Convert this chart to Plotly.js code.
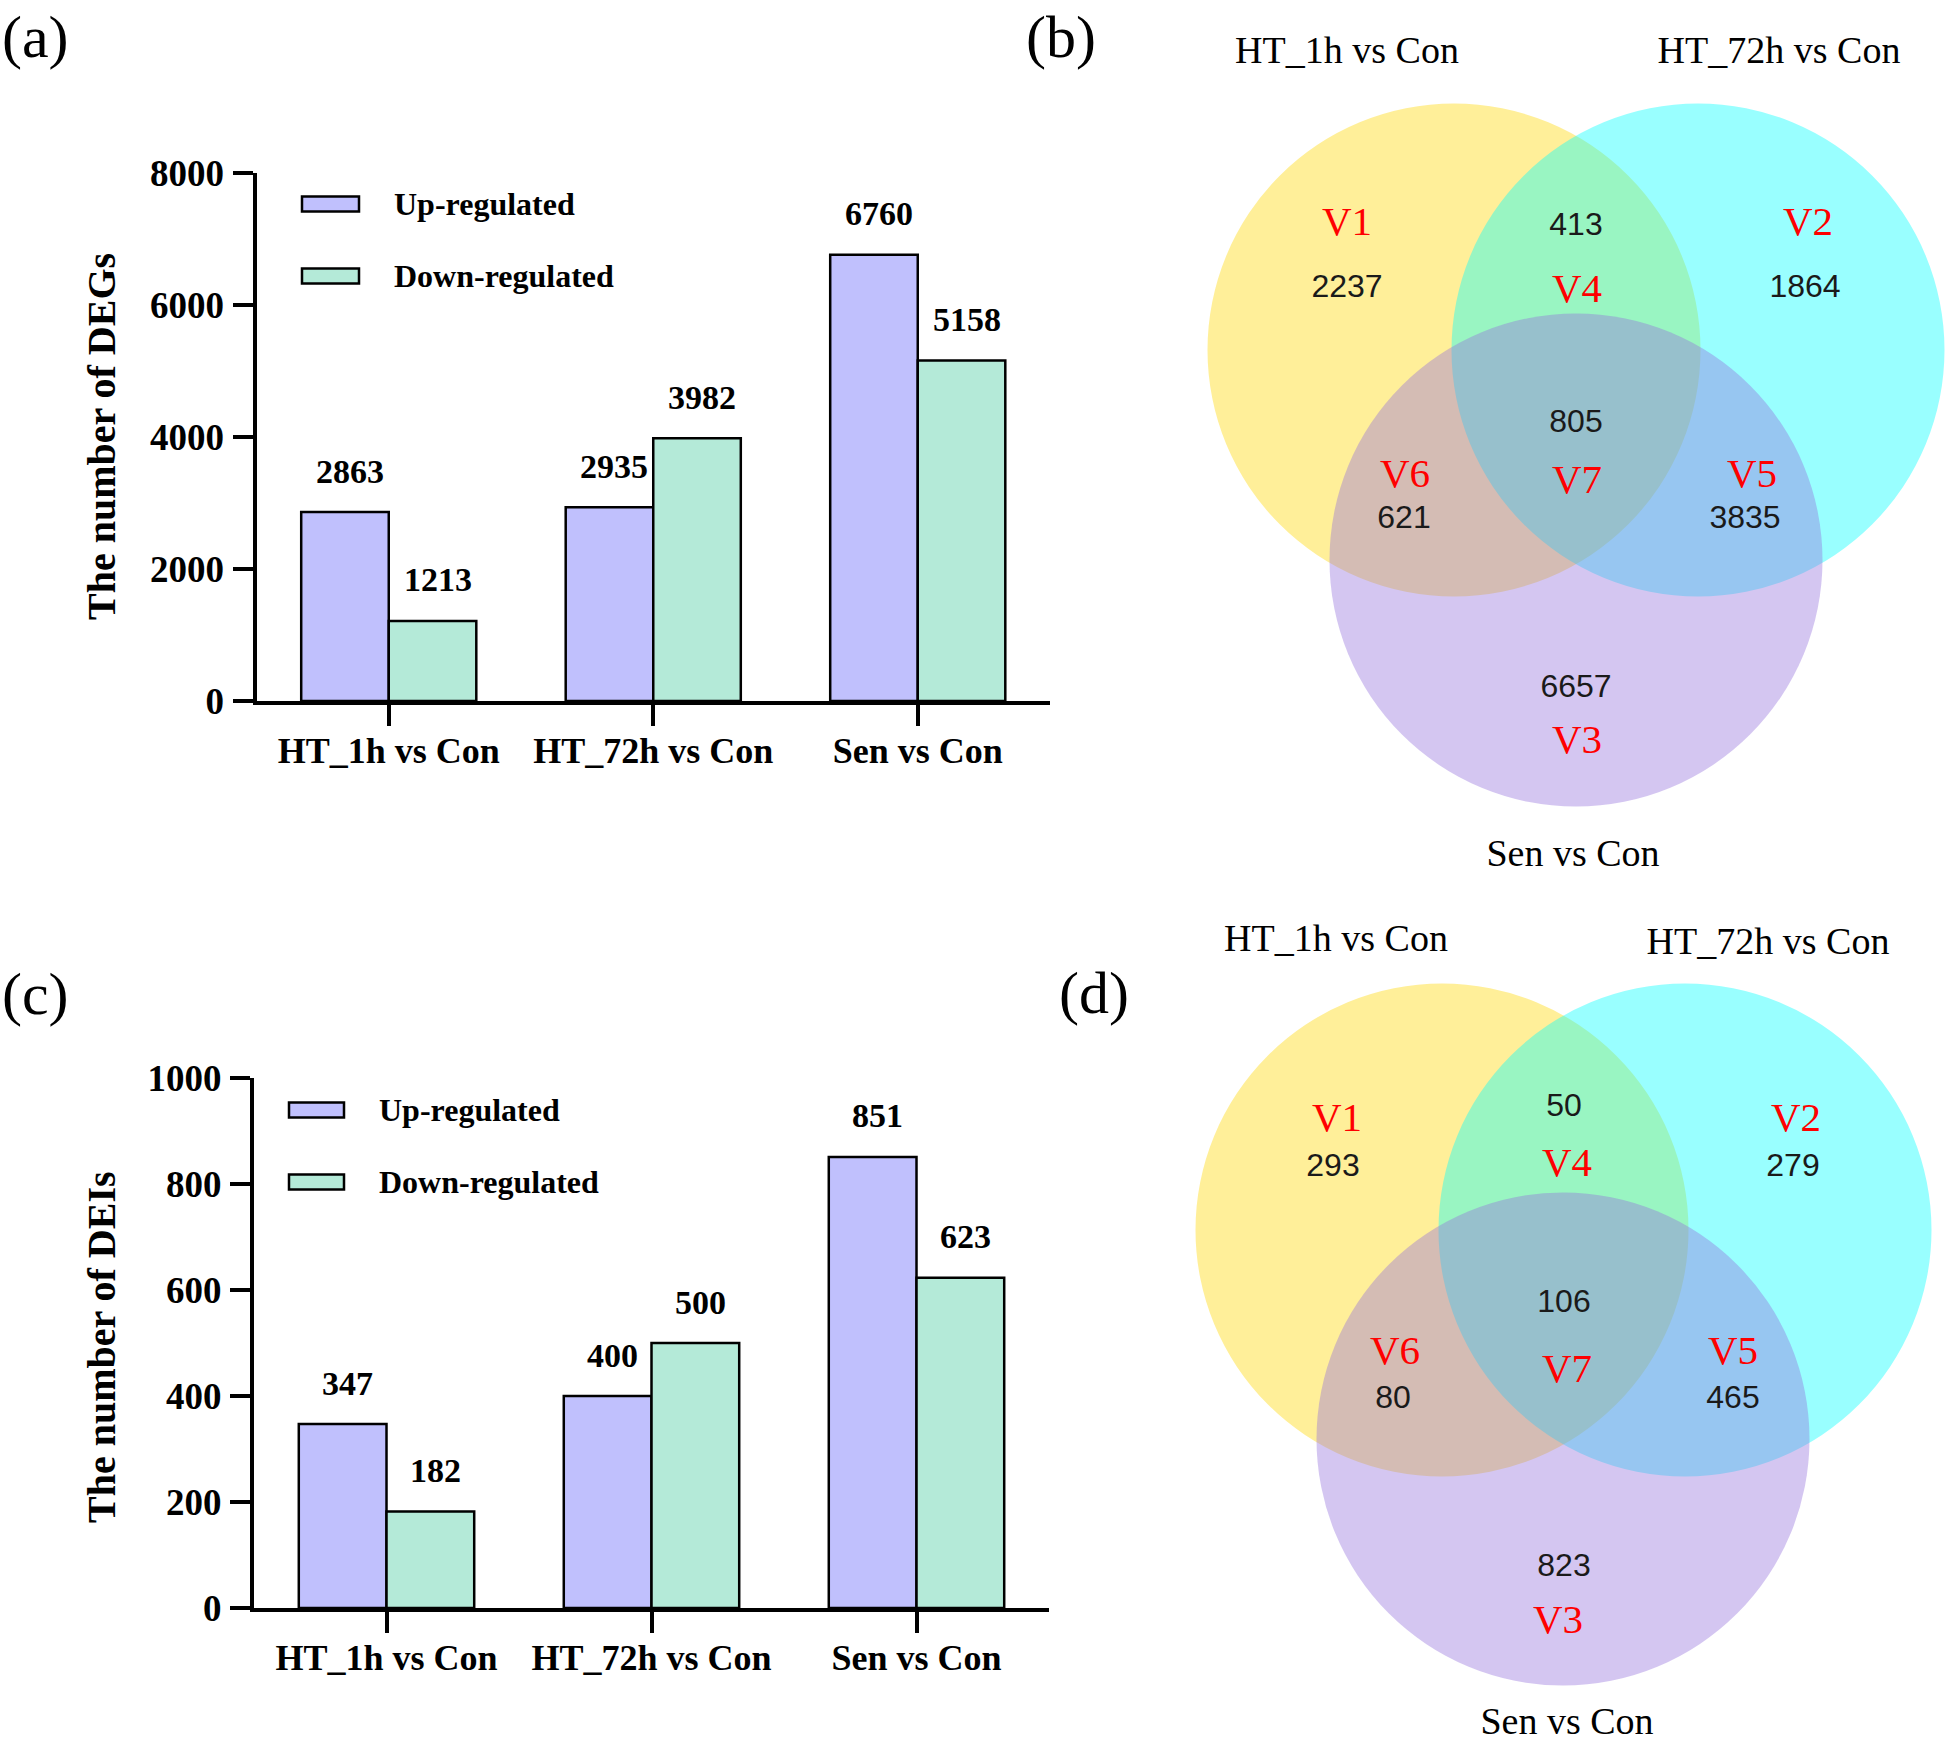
<!DOCTYPE html>
<html>
<head>
<meta charset="utf-8">
<script src="https://cdn.plot.ly/plotly-3.0.1.min.js"></script>
<style>html,body{margin:0;padding:0;background:#fff}</style>
</head>
<body>
<div id="chart" style="width:1946px;height:1743px"></div>
<script>
// ---------------- DATA ----------------
const categories = ['HT_1h vs Con', 'HT_72h vs Con', 'Sen vs Con'];
const seriesNames = ['Up-regulated', 'Down-regulated'];
const degUp = [2863, 2935, 6760];
const degDown = [1213, 3982, 5158];
const deiUp = [347, 400, 851];
const deiDown = [182, 500, 623];
const degTicks = [0, 2000, 4000, 6000, 8000];
const deiTicks = [0, 200, 400, 600, 800, 1000];
const vennSets = ['HT_1h vs Con', 'HT_72h vs Con', 'Sen vs Con'];
const vennRegions = ['V1', 'V2', 'V3', 'V4', 'V5', 'V6', 'V7'];
const vennDEGs = [2237, 1864, 6657, 413, 3835, 621, 805];
const vennDEIs = [293, 279, 823, 50, 465, 80, 106];

// ---------------- LAYOUT / STYLE ----------------
const W = 1946, H = 1743;
const SERIF = '"Liberation Serif","Times New Roman",serif';
const SANS = '"Liberation Sans",Arial,sans-serif';
const UP_COLOR = '#C0C0FD', DOWN_COLOR = '#B4EAD8';
const VENN_COLORS = ['#FFD700', '#00FFFF', '#9370DB'];
const BARGAP = 0.338;
const TEXT_DY = 3;   // small vertical nudge for venn texts
const px = v => v / W;
const py = v => 1 - v / H;

const barPanels = [
  {xa: 'x', ya: 'y', left: 256.5, right: 1050, top: 173, bottom: 701, max: 8000, ticks: degTicks,
   up: degUp, down: degDown, ytitle: 'The number of DEGs', tX: 101, tY: 437,
   leg: {sx0: 302, sx1: 359, tx: 392, y: [204, 276]}, label: '(a)', lx: 35, ly: 37},
  {xa: 'x2', ya: 'y2', left: 254, right: 1049, top: 1078, bottom: 1608, max: 1000, ticks: deiTicks,
   up: deiUp, down: deiDown, ytitle: 'The number of DEIs', tX: 101, tY: 1347,
   leg: {sx0: 289, sx1: 344, tx: 377, y: [1110, 1182]}, label: '(c)', lx: 35, ly: 994}
];

const vennPanels = [
  {counts: vennDEGs, circles: [[1454, 350], [1698, 350], [1576, 560]], r: 246.5,
   vPos: [[1347, 222], [1808, 222], [1577, 740], [1577, 289], [1752, 474], [1405, 474], [1577, 480]],
   nPos: [[1347, 286], [1805, 286], [1576, 686], [1576, 224], [1745, 517], [1404, 517], [1576, 421]],
   tPos: [[1347, 50], [1779, 50], [1573, 853]], label: '(b)', lx: 1061, ly: 37},
  {counts: vennDEIs, circles: [[1442, 1230], [1685, 1230], [1563, 1439]], r: 246.5,
   vPos: [[1337, 1118], [1796, 1118], [1558, 1620], [1567, 1163], [1733, 1351], [1395, 1351], [1567, 1369]],
   nPos: [[1333, 1165], [1793, 1165], [1564, 1565], [1564, 1105], [1733, 1397], [1393, 1397], [1564, 1301]],
   tPos: [[1336, 938], [1768, 941], [1567, 1721]], label: '(d)', lx: 1094, ly: 993}
];

const traces = [];
const shapes = [];
const annotations = [];
const layout = {
  width: W, height: H,
  margin: {l: 0, r: 0, t: 0, b: 0, pad: 0},
  paper_bgcolor: '#ffffff', plot_bgcolor: 'rgba(0,0,0,0)',
  showlegend: false,
  barmode: 'group', bargap: BARGAP, bargroupgap: 0,
  font: {family: SERIF, color: '#000'}
};

barPanels.forEach((p, k) => {
  const idx = k === 0 ? '' : '2';
  const xFont = {family: SERIF, size: 36, weight: 'bold', color: '#000'};
  const yFont = {family: SERIF, size: 37, weight: 'bold', color: '#000'};
  layout['xaxis' + idx] = {
    domain: [px(p.left), px(p.right)], anchor: p.ya, type: 'category', range: [-0.5, 2.5],
    showline: true, linecolor: '#000', linewidth: 4, ticks: 'outside', ticklen: 21, tickwidth: 4,
    tickcolor: '#000', tickfont: xFont, showgrid: false, zeroline: false, fixedrange: true,
    ticklabelstandoff: -6
  };
  layout['yaxis' + idx] = {
    domain: [py(p.bottom), py(p.top)], anchor: p.xa, range: [0, p.max], tickvals: p.ticks,
    showline: true, linecolor: '#000', linewidth: 4, ticks: 'outside', ticklen: 20, tickwidth: 4,
    tickcolor: '#000', tickfont: yFont, showgrid: false, zeroline: false, fixedrange: true,
    ticklabelstandoff: 1
  };
  [[p.up, UP_COLOR, seriesNames[0]], [p.down, DOWN_COLOR, seriesNames[1]]].forEach(([vals, col, nm]) => {
    traces.push({type: 'bar', x: categories, y: vals, name: nm, xaxis: p.xa, yaxis: p.ya,
      marker: {color: col, line: {color: '#000', width: 2.5}}, hoverinfo: 'x+y+name'});
  });
  // value labels above bars
  const spacing = (p.right - p.left) / categories.length;
  const barW = spacing * (1 - BARGAP) / 2;
  categories.forEach((c, i) => {
    [[p.up[i], -barW / 2], [p.down[i], barW / 2]].forEach(([v, sh]) => {
      annotations.push({xref: p.xa, yref: p.ya, x: c, y: v, xshift: sh + 5, yshift: 41,
        text: String(v), showarrow: false, xanchor: 'center', yanchor: 'middle',
        font: {family: SERIF, size: 34, weight: 'bold', color: '#000'}});
    });
  });
  // y title
  annotations.push({xref: 'paper', yref: 'paper', x: px(p.tX), y: py(p.tY), text: p.ytitle,
    textangle: -90, showarrow: false, xanchor: 'center', yanchor: 'middle',
    font: {family: SERIF, size: 40, weight: 'bold', color: '#000'}});
  // legend
  [UP_COLOR, DOWN_COLOR].forEach((col, j) => {
    shapes.push({type: 'rect', xref: 'paper', yref: 'paper', x0: px(p.leg.sx0), x1: px(p.leg.sx1),
      y0: py(p.leg.y[j] - 7.5), y1: py(p.leg.y[j] + 7.5), fillcolor: col,
      line: {color: '#000', width: 2.5}});
    annotations.push({xref: 'paper', yref: 'paper', x: px(p.leg.tx), y: py(p.leg.y[j]),
      text: seriesNames[j], showarrow: false, xanchor: 'left', yanchor: 'middle',
      font: {family: SERIF, size: 32, weight: 'bold', color: '#000'}});
  });
  // panel label
  annotations.push({xref: 'paper', yref: 'paper', x: px(p.lx), y: py(p.ly), text: p.label,
    showarrow: false, xanchor: 'center', yanchor: 'middle', borderpad: 0,
    font: {family: SERIF, size: 60, color: '#000'}});
});

// Venn overlay axes in pixel units
layout.xaxis3 = {domain: [0, 1], range: [0, W], anchor: 'y3', visible: false, fixedrange: true};
layout.yaxis3 = {domain: [0, 1], range: [H, 0], anchor: 'x3', visible: false, fixedrange: true};

vennPanels.forEach(v => {
  v.circles.forEach((c, j) => {
    shapes.push({type: 'circle', xref: 'x3', yref: 'y3', layer: 'below',
      x0: c[0] - v.r, x1: c[0] + v.r, y0: c[1] - v.r, y1: c[1] + v.r,
      fillcolor: VENN_COLORS[j], opacity: 0.4, line: {width: 0}});
  });
  traces.push({type: 'scatter', mode: 'text', xaxis: 'x3', yaxis: 'y3',
    x: v.nPos.map(q => q[0]), y: v.nPos.map(q => q[1] + TEXT_DY), text: v.counts.map(String),
    textposition: 'middle center', textfont: {family: SANS, size: 32, color: '#1a1a1a'},
    hoverinfo: 'text', cliponaxis: false});
  traces.push({type: 'scatter', mode: 'text', xaxis: 'x3', yaxis: 'y3',
    x: v.vPos.map(q => q[0]), y: v.vPos.map(q => q[1] + TEXT_DY), text: vennRegions,
    textposition: 'middle center', textfont: {family: SERIF, size: 41, color: '#FF0000'},
    hoverinfo: 'text', cliponaxis: false});
  traces.push({type: 'scatter', mode: 'text', xaxis: 'x3', yaxis: 'y3',
    x: v.tPos.map(q => q[0]), y: v.tPos.map(q => q[1] + TEXT_DY), text: vennSets,
    textposition: 'middle center', textfont: {family: SERIF, size: 38, color: '#000'},
    hoverinfo: 'text', cliponaxis: false});
  annotations.push({xref: 'paper', yref: 'paper', x: px(v.lx), y: py(v.ly), text: v.label,
    showarrow: false, xanchor: 'center', yanchor: 'middle', borderpad: 0,
    font: {family: SERIF, size: 60, color: '#000'}});
});

layout.shapes = shapes;
layout.annotations = annotations;

Plotly.newPlot('chart', traces, layout, {displayModeBar: false, responsive: false});
</script>
</body>
</html>
